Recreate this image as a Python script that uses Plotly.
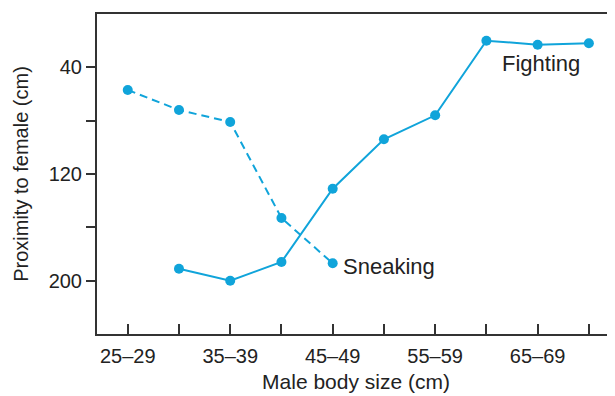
import plotly.graph_objects as go

categories = ["25–29", "30–34", "35–39", "40–44", "45–49", "50–54", "55–59", "60–64", "65–69", "70–74"]
tick_labels = ["25–29", "", "35–39", "", "45–49", "", "55–59", "", "65–69", ""]

sneaking_cats = ["25–29", "30–34", "35–39", "40–44", "45–49"]
sneaking_vals = [57, 72, 81, 153, 187]

fighting_cats = ["30–34", "35–39", "40–44", "45–49", "50–54", "55–59", "60–64", "65–69", "70–74"]
fighting_vals = [191, 200, 186, 131, 94, 76, 20, 23, 22]

y_tickvals = [40, 80, 120, 160, 200]
y_ticktext = ["40", "", "120", "", "200"]

color = "#10a4da"
font_family = "Liberation Sans, Arial, sans-serif"

idx = {c: i for i, c in enumerate(categories)}

fig = go.Figure()
fig.add_trace(go.Scatter(
    x=[idx[c] for c in sneaking_cats], y=sneaking_vals,
    mode="lines+markers",
    line=dict(color=color, width=2, dash="8px,5px"),
    marker=dict(color=color, size=10),
    showlegend=False,
))
fig.add_trace(go.Scatter(
    x=[idx[c] for c in fighting_cats], y=fighting_vals,
    mode="lines+markers",
    line=dict(color=color, width=2),
    marker=dict(color=color, size=10),
    showlegend=False,
))

fig.add_annotation(x=idx["45–49"], y=sneaking_vals[-1], text="Sneaking",
                   showarrow=False, xanchor="left", xshift=8, yshift=-3,
                   font=dict(size=22, color="#222", family=font_family))
fig.add_annotation(x=idx["65–69"], y=fighting_vals[-2], text="Fighting",
                   showarrow=False, xanchor="center", xshift=3, yshift=-19,
                   font=dict(size=22, color="#222", family=font_family))

fig.update_layout(
    width=615, height=396,
    margin=dict(l=89, r=8, t=4, b=70),
    paper_bgcolor="white", plot_bgcolor="white",
    font=dict(family=font_family, size=20, color="#222"),
    xaxis=dict(
        range=[-0.6, 9.51],
        tickmode="array", tickvals=list(range(len(categories))), ticktext=tick_labels,
        ticks="inside", ticklen=10, tickwidth=1.5, tickcolor="#333",
        showline=True, linecolor="#333", linewidth=2, mirror=True,
        showgrid=False, zeroline=False,
        ticklabelstandoff=3,
        title=dict(text="Male body size (cm)", font=dict(size=21), standoff=8),
        tickfont=dict(size=20),
    ),
    yaxis=dict(
        range=[240, 0],
        tickmode="array", tickvals=y_tickvals, ticktext=y_ticktext,
        ticks="outside", ticklen=9, tickwidth=1.5, tickcolor="#333",
        showline=True, linecolor="#333", linewidth=2, mirror=False,
        showgrid=False, zeroline=False,
        title=dict(text="Proximity to female (cm)", font=dict(size=20), standoff=15),
        tickfont=dict(size=20),
    ),
)

fig.write_html("out.html")
